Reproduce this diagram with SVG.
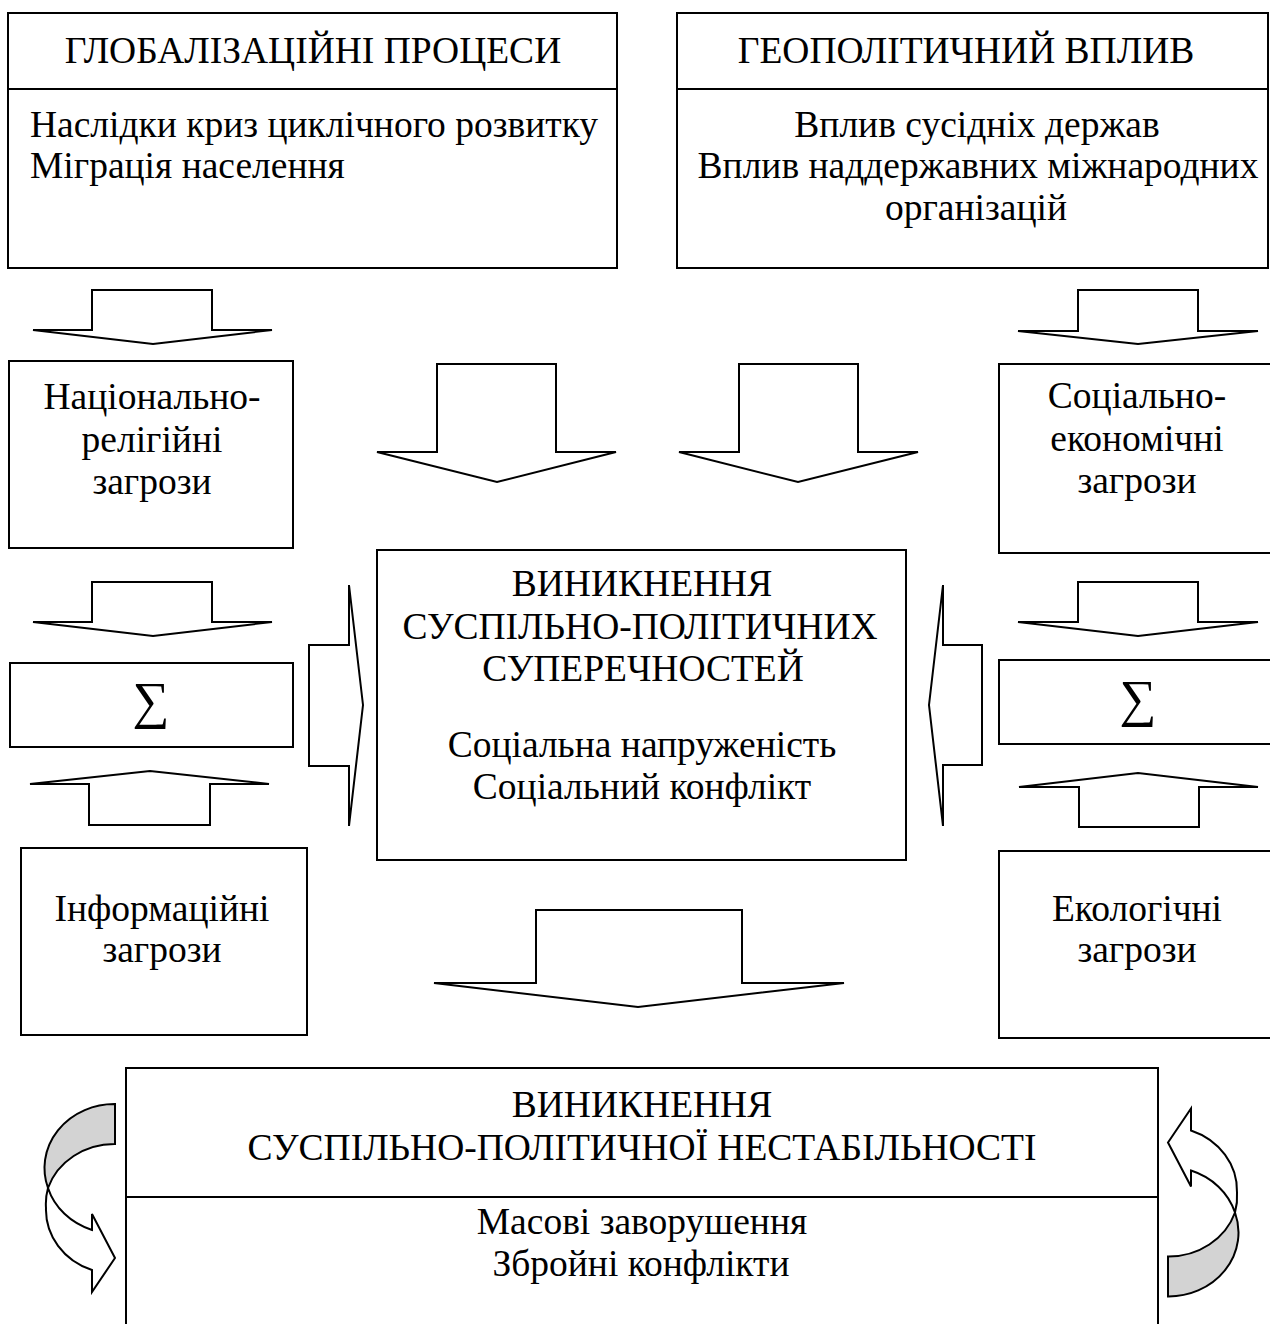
<svg xmlns="http://www.w3.org/2000/svg" xmlns:xlink="http://www.w3.org/1999/xlink" width="1270" height="1324" viewBox="0 0 1270 1324">
<style>
.box{fill:#fff;stroke:#000;stroke-width:2}
.arr{fill:#fff;stroke:#000;stroke-width:2;stroke-linejoin:miter}
.div{stroke:#000;stroke-width:2}
text{font-family:"Liberation Serif","Times New Roman",serif;font-size:37.5px;fill:#000}
.c{text-anchor:middle}
.sig{font-size:52px}
.gray{fill:#d3d3d3;stroke:#000;stroke-width:2}
</style>
<defs>
<g id="curl">
<path class="gray" d="M115,1104 A70,64 0 0 0 48,1188 A70,64 0 0 1 115,1144 Z"/>
<path class="arr" d="M48,1188 A70,64 0 0 0 92,1230 L92,1214 L115,1258 L92,1292 L92,1270 A70,64 0 0 1 46,1208 A70,64 0 0 1 48,1188 Z"/>
</g>
</defs>
<rect width="1270" height="1324" fill="#fff"/>

<g id="connectors">
<polygon class="arr" points="92,290 212,290 212,330 272,330 153,344 33,330 92,330"/>
<polygon class="arr" points="1078,290 1198,290 1198,331 1258,331 1138,344 1018,331 1078,331"/>
<polygon class="arr" points="437,364 556,364 556,452 616,452 497,482 377,452 437,452"/>
<polygon class="arr" points="739,364 858,364 858,452 918,452 798,482 679,452 739,452"/>
<polygon class="arr" points="92,582 212,582 212,622 272,622 153,636 33,622 92,622"/>
<polygon class="arr" points="1078,582 1198,582 1198,622 1258,622 1138,636 1018,622 1078,622"/>
<polygon class="arr" points="89,825 210,825 210,784 269,784 150,771 30,784 89,784"/>
<polygon class="arr" points="1079,827 1199,827 1199,787 1258,787 1138,773 1019,787 1079,787"/>
<polygon class="arr" points="309,645 349,645 349,585 363,705 349,826 349,766 309,766"/>
<polygon class="arr" points="982,645 943,645 943,585 929,705 943,826 943,765 982,765"/>
<polygon class="arr" points="536,910 742,910 742,983 844,983 638,1007 434,983 536,983"/>
<use xlink:href="#curl"/>
<use xlink:href="#curl" transform="rotate(180 641.5 1200.25)"/>
</g>

<g id="globalization">
<rect class="box" x="8" y="13" width="609" height="255"/>
<line class="div" x1="8" y1="89" x2="617" y2="89"/>
<text class="c" x="313" y="63">ГЛОБАЛІЗАЦІЙНІ ПРОЦЕСИ</text>
<text x="30" y="137">Наслідки криз циклічного розвитку</text>
<text x="30" y="178">Міграція населення</text>
</g>

<g id="geopolitics">
<rect class="box" x="677" y="13" width="591" height="255"/>
<line class="div" x1="677" y1="89" x2="1268" y2="89"/>
<text class="c" x="966" y="63">ГЕОПОЛІТИЧНИЙ ВПЛИВ</text>
<text class="c" x="977" y="137">Вплив сусідніх держав</text>
<text class="c" x="978" y="178">Вплив наддержавних міжнародних</text>
<text class="c" x="976" y="220">організацій</text>
</g>

<g id="national-religious">
<rect class="box" x="9" y="361" width="284" height="187"/>
<text class="c" x="152" y="409">Національно-</text>
<text class="c" x="152" y="452">релігійні</text>
<text class="c" x="152" y="494">загрози</text>
</g>

<g id="socio-economic">
<rect class="box" x="999" y="364" width="290" height="189"/>
<text class="c" x="1137" y="408">Соціально-</text>
<text class="c" x="1137" y="451">економічні</text>
<text class="c" x="1137" y="493">загрози</text>
</g>

<g id="sum-left">
<rect class="box" x="10" y="663" width="283" height="84"/>
<text class="c sig" x="151" y="718">∑</text>
</g>

<g id="sum-right">
<rect class="box" x="999" y="660" width="290" height="84"/>
<text class="c sig" x="1138" y="716">∑</text>
</g>

<g id="information">
<rect class="box" x="21" y="848" width="286" height="187"/>
<text class="c" x="162" y="921">Інформаційні</text>
<text class="c" x="162" y="962">загрози</text>
</g>

<g id="ecological">
<rect class="box" x="999" y="851" width="290" height="187"/>
<text class="c" x="1137" y="921">Екологічні</text>
<text class="c" x="1137" y="962">загрози</text>
</g>

<g id="contradictions">
<rect class="box" x="377" y="550" width="529" height="310"/>
<text class="c" x="642" y="596">ВИНИКНЕННЯ</text>
<text class="c" x="640" y="639">СУСПІЛЬНО-ПОЛІТИЧНИХ</text>
<text class="c" x="643" y="681">СУПЕРЕЧНОСТЕЙ</text>
<text class="c" x="642" y="757">Соціальна напруженість</text>
<text class="c" x="642" y="799">Соціальний конфлікт</text>
</g>

<g id="instability">
<rect class="box" x="126" y="1068" width="1032" height="280"/>
<line class="div" x1="126" y1="1197" x2="1158" y2="1197"/>
<text class="c" x="642" y="1117">ВИНИКНЕННЯ</text>
<text class="c" x="642" y="1160">СУСПІЛЬНО-ПОЛІТИЧНОЇ НЕСТАБІЛЬНОСТІ</text>
<text class="c" x="642" y="1234">Масові заворушення</text>
<text class="c" x="641" y="1276">Збройні конфлікти</text>
</g>
</svg>
